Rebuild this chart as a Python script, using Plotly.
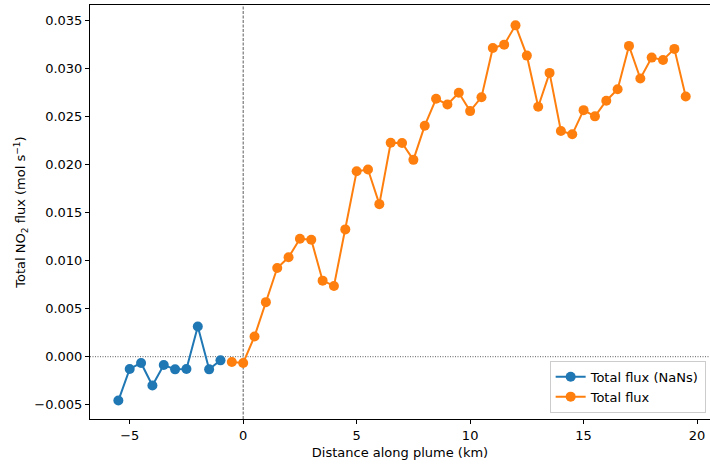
import plotly.graph_objects as go

x_nans = [-5.5, -5.0, -4.5, -4.0, -3.5, -3.0, -2.5, -2.0, -1.5, -1.0]
y_nans = [-0.00457, -0.00128, -0.00065, -0.0030, -0.00086, -0.00132, -0.00128, 0.00315, -0.00132, -0.00038]

x_flux = [-0.5, 0.0, 0.5, 1.0, 1.5, 2.0, 2.5, 3.0, 3.5, 4.0, 4.5, 5.0, 5.5, 6.0, 6.5, 7.0, 7.5,
          8.0, 8.5, 9.0, 9.5, 10.0, 10.5, 11.0, 11.5, 12.0, 12.5, 13.0, 13.5, 14.0, 14.5, 15.0,
          15.5, 16.0, 16.5, 17.0, 17.5, 18.0, 18.5, 19.0, 19.5]
y_flux = [-0.00055, -0.00065, 0.00211, 0.00568, 0.00924, 0.01035, 0.01229, 0.01218, 0.00792, 0.00737,
          0.01326, 0.01931, 0.01949, 0.01589, 0.02228, 0.02225, 0.02050, 0.02406, 0.02686, 0.02627,
          0.02749, 0.02558, 0.02703, 0.03216, 0.03250, 0.03451, 0.03136, 0.02603, 0.02956, 0.02350,
          0.02316, 0.02568, 0.02503, 0.02666, 0.02786, 0.03237, 0.02897, 0.03115, 0.03091, 0.03206,
          0.02710]

blue = "#1f77b4"
orange = "#ff7f0e"

fig = go.Figure()
fig.add_trace(go.Scatter(x=x_nans, y=y_nans, mode="lines+markers", name="Total flux (NaNs)",
                         line=dict(color=blue, width=2), marker=dict(color=blue, size=10)))
fig.add_trace(go.Scatter(x=x_flux, y=y_flux, mode="lines+markers", name="Total flux",
                         line=dict(color=orange, width=2), marker=dict(color=orange, size=10)))

fig.add_vline(x=0, line=dict(color="#333333", width=0.8, dash="3px,1.5px"), layer="below")
fig.add_hline(y=0, line=dict(color="#333333", width=0.8, dash="1px,1.5px"), layer="below")

axis_common = dict(showline=True, linecolor="black", linewidth=1, ticks="outside",
                   ticklen=4, tickcolor="black", showgrid=False, zeroline=False,
                   tickfont=dict(size=13, color="black"))

fig.update_layout(
    width=710, height=467,
    margin=dict(l=90, r=0, t=5, b=48),
    paper_bgcolor="white", plot_bgcolor="white",
    font=dict(family="DejaVu Sans", color="black", size=13),
    xaxis=dict(range=[-6.75, 20.57], dtick=5, tick0=0, mirror=True,
               title=dict(text="Distance along plume (km)", font=dict(size=13), standoff=6),
               **axis_common),
    yaxis=dict(range=[-0.00649, 0.03663], dtick=0.005, tick0=0, tickformat=".3f", mirror=False,
               title=dict(text="Total NO<sub>2</sub> flux (mol s<sup>−1</sup>)", font=dict(size=13), standoff=5),
               **axis_common),
    legend=dict(x=0.993, y=0.015, xanchor="right", yanchor="bottom", bordercolor="#cccccc",
                borderwidth=1, bgcolor="rgba(255,255,255,0.8)", font=dict(size=13)),
    showlegend=True,
)

fig.write_html("out.html")
